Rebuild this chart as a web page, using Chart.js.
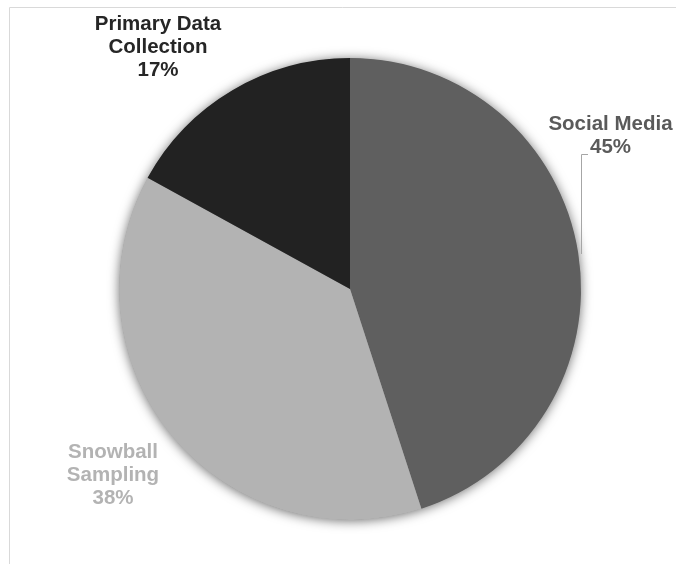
<!DOCTYPE html>
<html>
<head>
<meta charset="utf-8">
<script src="https://cdn.jsdelivr.net/npm/chart.js@4/dist/chart.umd.min.js"></script>
<style>
  html, body { margin: 0; padding: 0; background: #ffffff; }
  #wrap { position: relative; width: 676px; height: 564px; }
</style>
</head>
<body>
<div id="wrap"><canvas id="c"></canvas></div>
<script>
const categories = ["Social Media", "Snowball Sampling", "Primary Data Collection"];
const values = [45, 38, 17];
const labelLines = [["Social Media", "45%"], ["Snowball", "Sampling", "38%"], ["Primary Data", "Collection", "17%"]];
const sliceColors = ["#5f5f5f", "#b3b3b3", "#222222"];
const labelColors = ["#5a5a5a", "#b3b3b3", "#262626"];

const framePlugin = {
  id: 'frame',
  beforeDraw(chart) {
    const ctx = chart.ctx;
    ctx.save();
    ctx.strokeStyle = '#d9d9d9';
    ctx.lineWidth = 1;
    ctx.beginPath();
    ctx.moveTo(9.5, 564);
    ctx.lineTo(9.5, 7.5);
    ctx.lineTo(676, 7.5);
    ctx.stroke();
    ctx.restore();
  }
};

const shadowPlugin = {
  id: 'pieShadow',
  beforeDatasetsDraw(chart) {
    const arc = chart.getDatasetMeta(0).data[0];
    if (!arc) return;
    const ctx = chart.ctx;
    ctx.save();
    ctx.shadowColor = 'rgba(0,0,0,0.6)';
    ctx.shadowBlur = 12;
    ctx.shadowOffsetX = 0;
    ctx.shadowOffsetY = 1;
    ctx.fillStyle = '#888888';
    ctx.beginPath();
    ctx.arc(arc.x, arc.y, arc.outerRadius - 0.5, 0, Math.PI * 2);
    ctx.fill();
    ctx.restore();
  }
};

const labelPlugin = {
  id: 'sliceLabels',
  afterDatasetsDraw(chart, args, opts) {
    const ctx = chart.ctx;
    const meta = chart.getDatasetMeta(0);
    const cx = meta.data[0].x, cy = meta.data[0].y;
    ctx.save();
    ctx.font = 'bold 20.5px "Liberation Sans", Arial, sans-serif';
    ctx.textAlign = 'center';
    ctx.textBaseline = 'alphabetic';
    opts.positions.forEach((p, i) => {
      ctx.fillStyle = labelColors[i];
      labelLines[i].forEach((t, k) => {
        ctx.fillText(t, cx + p.dx, cy + p.dy + k * opts.lineHeight);
      });
    });
    // leader line for Social Media
    ctx.strokeStyle = '#a6a6a6';
    ctx.lineWidth = 1;
    ctx.beginPath();
    ctx.moveTo(cx + 238, cy - 134.5);
    ctx.lineTo(cx + 231.5, cy - 134.5);
    ctx.lineTo(cx + 231.5, cy - 35);
    ctx.stroke();
    ctx.restore();
  }
};

new Chart(document.getElementById('c'), {
  type: 'pie',
  data: {
    labels: categories,
    datasets: [{
      data: values,
      backgroundColor: sliceColors,
      borderWidth: 0,
      hoverOffset: 0
    }]
  },
  options: {
    responsive: true,
    maintainAspectRatio: false,
    devicePixelRatio: 1,
    animation: false,
    radius: 231,
    layout: { padding: { left: 24, right: 0, top: 14, bottom: 0 } },
    plugins: {
      legend: { display: false },
      tooltip: { enabled: false },
      sliceLabels: {
        lineHeight: 23,
        positions: [
          { dx: 260.5, dy: -159 },
          { dx: -237, dy: 169 },
          { dx: -192, dy: -259 }
        ]
      }
    }
  },
  plugins: [framePlugin, shadowPlugin, labelPlugin]
});
</script>
</body>
</html>
